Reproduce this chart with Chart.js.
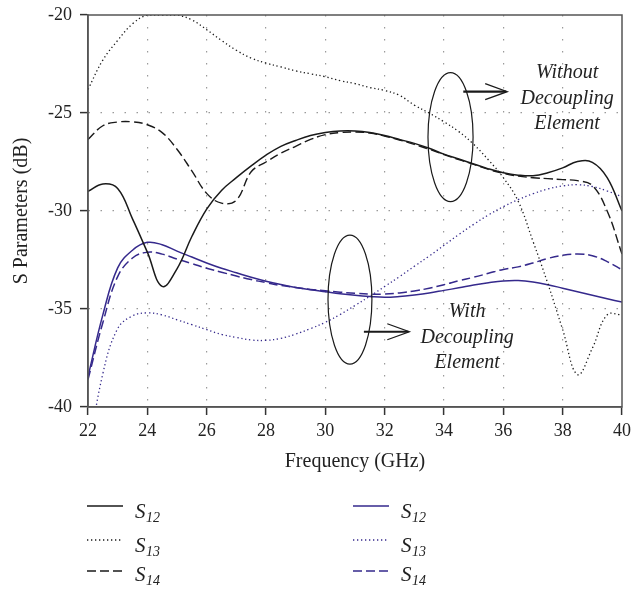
<!DOCTYPE html>
<html>
<head>
<meta charset="utf-8">
<script src="https://cdn.jsdelivr.net/npm/chart.js@4.4.1/dist/chart.umd.min.js"></script>
<style>
  html, body { margin: 0; padding: 0; background: #ffffff; }
  canvas { display: block; }
</style>
</head>
<body>
<canvas id="sparams" width="631" height="590"></canvas>
<script>
// Frequency sweep (GHz)
const freqGHz = [22, 22.5, 23, 23.5, 24, 24.5, 25, 25.5, 26, 26.5, 27, 27.5, 28, 28.5, 29, 29.5,
  30, 30.5, 31, 31.5, 32, 32.5, 33, 33.5, 34, 34.5, 35, 35.5, 36, 36.5, 37, 37.5, 38, 38.5, 39, 39.5, 40];

// Without decoupling element (dB)
const s12Without = [-29.0, -28.62, -28.85, -30.4, -32.1, -33.85, -32.95, -31.3, -29.9, -28.95, -28.3, -27.7,
  -27.15, -26.7, -26.4, -26.15, -26.0, -25.92, -25.92, -26.0, -26.15, -26.35, -26.55, -26.8, -27.1, -27.35,
  -27.6, -27.85, -28.05, -28.17, -28.2, -28.05, -27.8, -27.48, -27.52, -28.3, -30.0];
const s13Without = [-23.8, -22.3, -21.3, -20.45, -20.0, -20.0, -20.0, -20.25, -20.75, -21.3, -21.8, -22.2,
  -22.45, -22.65, -22.85, -23.0, -23.15, -23.35, -23.5, -23.7, -23.85, -24.1, -24.6, -25.0, -25.45, -25.95,
  -26.6, -27.4, -28.3, -29.5, -31.55, -33.7, -36.05, -38.35, -37.0, -35.3, -35.3];
const s14Without = [-26.35, -25.65, -25.46, -25.45, -25.6, -26.0, -26.85, -27.95, -29.1, -29.6, -29.45, -28.0,
  -27.5, -27.05, -26.7, -26.35, -26.1, -26.0, -25.97, -26.02, -26.18, -26.38, -26.6, -26.85, -27.12, -27.38,
  -27.62, -27.88, -28.08, -28.22, -28.3, -28.35, -28.4, -28.45, -28.7, -30.0, -32.2];

// With decoupling element (dB)
const s12With = [-38.45, -35.3, -32.9, -32.0, -31.6, -31.72, -32.05, -32.35, -32.65, -32.92, -33.15, -33.38,
  -33.58, -33.75, -33.9, -34.02, -34.12, -34.22, -34.3, -34.36, -34.4, -34.36, -34.28, -34.18, -34.05, -33.92,
  -33.78, -33.66, -33.57, -33.55, -33.62, -33.76, -33.94, -34.12, -34.3, -34.48, -34.65];
const s13With = [-42.5, -38.3, -36.0, -35.35, -35.2, -35.3, -35.55, -35.8, -36.05, -36.3, -36.45, -36.58,
  -36.6, -36.5, -36.28, -36.0, -35.68, -35.28, -34.82, -34.35, -33.85, -33.35, -32.82, -32.3, -31.75, -31.2,
  -30.68, -30.2, -29.78, -29.42, -29.12, -28.88, -28.72, -28.66, -28.75, -28.98, -29.27];
const s14With = [-38.6, -35.7, -33.35, -32.4, -32.1, -32.2, -32.45, -32.68, -32.92, -33.12, -33.32, -33.5,
  -33.65, -33.8, -33.9, -34.0, -34.07, -34.14, -34.2, -34.24, -34.24, -34.18, -34.08, -33.94, -33.76, -33.56,
  -33.38, -33.18, -32.98, -32.85, -32.65, -32.42, -32.26, -32.2, -32.28, -32.58, -33.0];

// Axis ticks
const xTickValues = [22, 24, 26, 28, 30, 32, 34, 36, 38, 40];
const yTickValues = [-40, -35, -30, -25, -20];

// Legend subscripts, one row per parameter
const legendSubscripts = ['12', '13', '14'];

// Group callouts (ellipse, arrow and caption in data units)
const callouts = [
  { cx: 34.22, cy: -26.23, rx: 0.76, ry: 3.29, arrowFrom: 34.65, arrowTo: 36.13, arrowY: -23.91,
    textX: 38.15, textY: -24.54, lines: ['Without', 'Decoupling', 'Element'] },
  { cx: 30.83, cy: -34.52, rx: 0.74, ry: 3.29, arrowFrom: 31.30, arrowTo: 32.83, arrowY: -36.16,
    textX: 34.78, textY: -36.73, lines: ['With', 'Decoupling', 'Element'] }
];

const SERIF = '"Liberation Serif", "Times New Roman", serif';
const BLACK = '#1a1a1a';
const BLUE = '#35298c';
const DOT = [1.3, 2.7];
const DASH = [9, 4];

const toPoints = vals => vals.map((v, i) => ({ x: freqGHz[i], y: v }));
const series = (label, vals, color, dash, width) => ({
  label, data: toPoints(vals), borderColor: color, borderWidth: width, borderDash: dash,
  pointRadius: 0, fill: false, tension: 0.4
});

const datasets = [
  series('S12 without', s12Without, BLACK, [], 1.5),
  series('S13 without', s13Without, BLACK, DOT, 1.3),
  series('S14 without', s14Without, BLACK, DASH, 1.4),
  series('S12 with', s12With, BLUE, [], 1.5),
  series('S13 with', s13With, BLUE, DOT, 1.3),
  series('S14 with', s14With, BLUE, DASH, 1.5)
];

const edgeHidden = (lo, hi) => ctx =>
  (ctx.tick && (ctx.tick.value === lo || ctx.tick.value === hi)) ? 'rgba(0,0,0,0)' : '#9a9a9a';

// Frame, callouts and the two-column legend
const decorations = {
  id: 'decorations',
  afterDatasetsDraw(chart) {
    const { ctx, chartArea: a, scales: { x, y } } = chart;
    ctx.save();
    ctx.setLineDash([]);
    ctx.strokeStyle = '#555';
    ctx.lineWidth = 1.5;
    ctx.strokeRect(a.left, a.top, a.right - a.left, a.bottom - a.top);

    ctx.strokeStyle = BLACK;
    ctx.fillStyle = '#222';
    callouts.forEach(n => {
      const cx = x.getPixelForValue(n.cx), cy = y.getPixelForValue(n.cy);
      const rx = Math.abs(x.getPixelForValue(n.cx + n.rx) - cx);
      const ry = Math.abs(y.getPixelForValue(n.cy + n.ry) - cy);
      ctx.lineWidth = 1.2;
      ctx.beginPath();
      ctx.ellipse(cx, cy, rx, ry, 0, 0, Math.PI * 2);
      ctx.stroke();

      const x0 = x.getPixelForValue(n.arrowFrom), x1 = x.getPixelForValue(n.arrowTo);
      const ay = y.getPixelForValue(n.arrowY);
      ctx.lineWidth = 2.2;
      ctx.beginPath();
      ctx.moveTo(x0, ay);
      ctx.lineTo(x1 - 1, ay);
      ctx.stroke();
      ctx.lineWidth = 1.3;
      ctx.beginPath();
      ctx.moveTo(x1 - 22, ay - 8);
      ctx.lineTo(x1, ay);
      ctx.lineTo(x1 - 22, ay + 8);
      ctx.stroke();

      ctx.font = 'italic 20px ' + SERIF;
      ctx.textAlign = 'center';
      ctx.textBaseline = 'alphabetic';
      const tx = x.getPixelForValue(n.textX), ty = y.getPixelForValue(n.textY);
      n.lines.forEach((t, i) => ctx.fillText(t, tx, ty + (i - 1) * 25.5));
    });
    ctx.restore();
  },
  afterDraw(chart) {
    const { ctx } = chart;
    const colX = [87, 353];
    const lineY = [506, 540, 571];
    const textBase = [518, 551.5, 580.5];
    ctx.save();
    legendSubscripts.forEach((sub, row) => {
      [0, 1].forEach(col => {
        const ds = chart.data.datasets[col * 3 + row];
        ctx.setLineDash(ds.borderDash);
        ctx.strokeStyle = ds.borderColor;
        ctx.lineWidth = ds.borderWidth;
        ctx.beginPath();
        ctx.moveTo(colX[col], lineY[row]);
        ctx.lineTo(colX[col] + 36, lineY[row]);
        ctx.stroke();

        ctx.setLineDash([]);
        ctx.fillStyle = '#222';
        ctx.textAlign = 'left';
        ctx.textBaseline = 'alphabetic';
        const sx = colX[col] + 48;
        ctx.font = 'italic 21px ' + SERIF;
        ctx.fillText('S', sx, textBase[row]);
        const w = ctx.measureText('S').width;
        ctx.font = 'italic 14px ' + SERIF;
        ctx.fillText(sub, sx + w + 0.5, textBase[row] + 4);
      });
    });
    ctx.restore();
  }
};

Chart.defaults.font.family = SERIF;
Chart.defaults.color = '#222';

new Chart(document.getElementById('sparams'), {
  type: 'line',
  data: { datasets },
  options: {
    responsive: false,
    animation: false,
    layout: { padding: { left: 10, right: 9, top: 15, bottom: 116 } },
    plugins: { legend: { display: false }, tooltip: { enabled: false } },
    scales: {
      x: {
        type: 'linear',
        min: 22, max: 40,
        afterBuildTicks: s => { s.ticks = xTickValues.map(v => ({ value: v })); },
        afterFit: s => { s.height = 67; s.paddingLeft = 0; s.paddingRight = 0; },
        ticks: { font: { size: 18 }, padding: 5, color: '#222', maxRotation: 0 },
        grid: { color: edgeHidden(22, 40), lineWidth: 1.2, tickColor: '#333', tickLength: 8, tickWidth: 1.5 },
        border: { color: '#555', width: 1.5, dash: [1.5, 10.5] },
        title: { display: true, text: 'Frequency (GHz)', font: { size: 20 }, color: '#222', padding: 0 }
      },
      y: {
        type: 'linear',
        min: -40, max: -20,
        afterBuildTicks: s => { s.ticks = yTickValues.map(v => ({ value: v })); },
        afterFit: s => { s.width = 78; s.paddingTop = 0; s.paddingBottom = 0; },
        ticks: { font: { size: 18 }, padding: 8, color: '#222' },
        grid: { color: edgeHidden(-40, -20), lineWidth: 1.2, tickColor: '#333', tickLength: 8, tickWidth: 1.5 },
        border: { color: '#555', width: 1.5, dash: [1.5, 10.5] },
        title: { display: true, text: 'S Parameters (dB)', font: { size: 20 }, color: '#222', padding: 0 }
      }
    }
  },
  plugins: [decorations]
});
</script>
</body>
</html>
